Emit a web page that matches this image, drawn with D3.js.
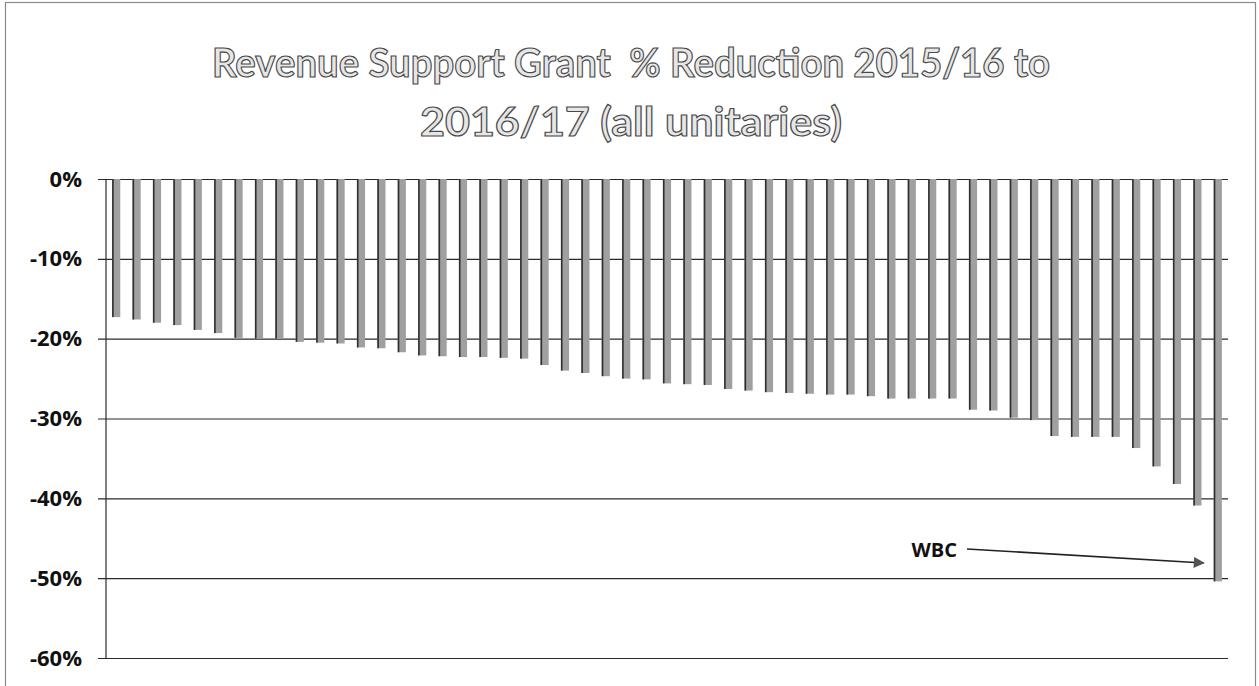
<!DOCTYPE html>
<html>
<head>
<meta charset="utf-8">
<script src="https://cdn.jsdelivr.net/npm/d3@7"></script>
<style>
  body { margin: 0; background: #fff; }
  svg { display: block; }
  .title-line { white-space: pre; }
</style>
</head>
<body>
<svg id="chart" width="1259" height="686"></svg>
<script>
// Revenue Support Grant change per unitary authority, sorted from smallest to largest cut
const titleLines = ["Revenue Support Grant  % Reduction 2015/16 to", "2016/17 (all unitaries)"];
const titleWidths = [838, 422];
const reductions = [
  -17.3, -17.6, -18.0, -18.3, -18.9, -19.3, -19.9, -20.0, -20.0, -20.4,
  -20.5, -20.6, -21.1, -21.2, -21.7, -22.1, -22.2, -22.3, -22.3, -22.4,
  -22.5, -23.3, -24.0, -24.3, -24.7, -25.0, -25.1, -25.6, -25.7, -25.8,
  -26.3, -26.5, -26.7, -26.8, -26.9, -27.0, -27.0, -27.2, -27.5, -27.5,
  -27.5, -27.5, -28.9, -29.0, -29.9, -30.2, -32.2, -32.3, -32.3, -32.3,
  -33.7, -36.0, -38.2, -40.9, -50.4
];
const authorities = reductions.map((_, i) => "UA" + (i + 1));
const yTicks = [0, -10, -20, -30, -40, -50, -60];
const calloutLabel = "WBC";
const calloutIndex = 54;

const svg = d3.select("#chart");
const plot = { left: 106, right: 1228, top: 179, bottom: 658 };

// chart frame
svg.append("rect")
  .attr("x", 5.5).attr("y", 2.5)
  .attr("width", 1250).attr("height", 700)
  .attr("fill", "#fff").attr("stroke", "#8a8a8a").attr("stroke-width", 1.2);

// outlined title
const title = svg.append("g")
  .attr("font-family", "Lato, 'Open Sans', sans-serif")
  .attr("font-size", 41)
  .attr("font-weight", "bold")
  .attr("text-anchor", "middle")
  .attr("fill", "#e6e6e6")
  .attr("stroke", "#4a4a4a")
  .attr("stroke-width", 1.2);
title.selectAll("text").data(titleLines).join("text")
  .attr("class", "title-line")
  .attr("xml:space", "preserve")
  .attr("x", 631)
  .attr("y", (d, i) => 77 + i * 59)
  .attr("textLength", (d, i) => titleWidths[i])
  .attr("lengthAdjust", "spacingAndGlyphs")
  .text(d => d);

const x = d3.scaleBand()
  .domain(authorities)
  .range([plot.left, plot.right])
  .paddingInner(0.6)
  .paddingOuter(0.3);

const y = d3.scaleLinear()
  .domain([-60, 0])
  .range([plot.bottom, plot.top]);

// horizontal gridlines with outward tick marks
const yAxis = d3.axisLeft(y)
  .tickValues(yTicks)
  .tickFormat(d => d + "%")
  .tickSize(plot.right - plot.left + 8);

const axisG = svg.append("g")
  .attr("transform", `translate(${plot.right},0)`)
  .call(yAxis);

axisG.select(".domain").remove();
axisG.selectAll(".tick line")
  .attr("stroke", "#2a2a2a")
  .attr("stroke-width", 1.2);
axisG.selectAll(".tick text")
  .attr("x", -(plot.right - plot.left) - 24)
  .attr("font-family", "'Open Sans', sans-serif")
  .attr("font-weight", "bold")
  .attr("font-size", 22)
  .attr("fill", "#111");

// vertical axis line
svg.append("line")
  .attr("x1", plot.left).attr("x2", plot.left)
  .attr("y1", y(0)).attr("y2", y(-60))
  .attr("stroke", "#2a2a2a").attr("stroke-width", 1.2);

// bars hanging from 0%
const bars = svg.append("g");
bars.selectAll("rect.bar").data(reductions).join("rect")
  .attr("class", "bar")
  .attr("x", (d, i) => x(authorities[i]))
  .attr("y", y(0))
  .attr("width", x.bandwidth())
  .attr("height", d => y(d) - y(0))
  .attr("fill", "#a0a0a0");
bars.selectAll("rect.edge").data(reductions).join("rect")
  .attr("class", "edge")
  .attr("x", (d, i) => x(authorities[i]))
  .attr("y", y(0))
  .attr("width", 1.6)
  .attr("height", d => y(d) - y(0))
  .attr("fill", "#2e2e2e");

// callout arrow pointing at the highlighted authority
svg.append("defs").append("marker")
  .attr("id", "arrowhead")
  .attr("viewBox", "0 0 10 10")
  .attr("refX", 9).attr("refY", 5)
  .attr("markerWidth", 15).attr("markerHeight", 11)
  .attr("markerUnits", "userSpaceOnUse")
  .attr("orient", "auto")
  .append("path")
  .attr("d", "M0,0 L10,5 L0,10 Z")
  .attr("fill", "#555");

const targetX = x(authorities[calloutIndex]) - 10;
svg.append("line")
  .attr("x1", 967).attr("y1", 549)
  .attr("x2", targetX).attr("y2", 563)
  .attr("stroke", "#222").attr("stroke-width", 1.6)
  .attr("marker-end", "url(#arrowhead)");

svg.append("text")
  .attr("x", 957).attr("y", 557)
  .attr("text-anchor", "end")
  .attr("font-family", "'Open Sans', sans-serif")
  .attr("font-weight", "bold")
  .attr("font-size", 20)
  .attr("fill", "#111")
  .text(calloutLabel);
</script>
</body>
</html>
